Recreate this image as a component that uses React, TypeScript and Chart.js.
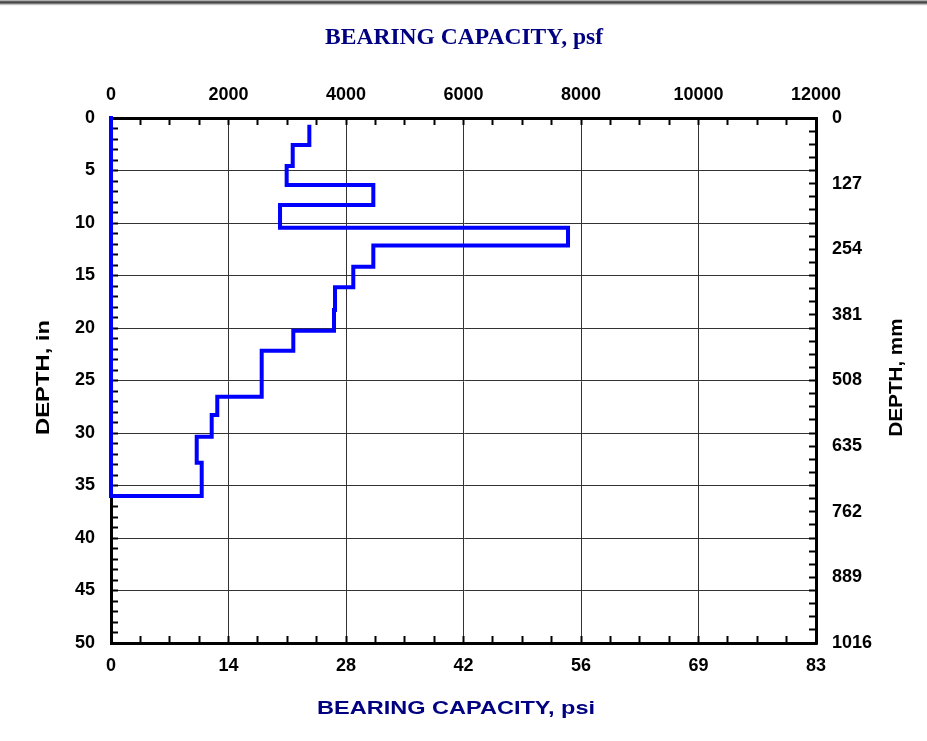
import React, { useEffect, useRef } from 'react';
import { Chart, registerables } from 'chart.js';

Chart.register(...registerables);

// ---- Data ----
// Bearing capacity (psf) of each layer, top to bottom
const LAYER_PSF = [3376, 3093, 2990, 4465, 2877, 7779, 4465, 4124, 3813, 3796, 3103, 2565, 1809, 1714, 1459, 1544];
// Depth boundaries (in) of the layers: layer i spans DEPTH_BREAKS[i]..DEPTH_BREAKS[i+1]
const DEPTH_BREAKS = [0.83, 2.57, 4.57, 6.38, 8.29, 10.45, 12.15, 14.16, 16.12, 18.29, 20.26, 22.16, 26.54, 28.29, 30.35, 32.83, 36.0];
// closing segment back along the zero-capacity edge
const TAIL_PSF = [0, 0];
const TAIL_DEPTH = [36.0, 0];

// ---- Tick labels ----
const PSF_TICK_LABELS = ['0', '2000', '4000', '6000', '8000', '10000', '12000'];
const PSI_TICK_LABELS = ['0', '14', '28', '42', '56', '69', '83'];
const DEPTH_IN_LABELS = ['0', '5', '10', '15', '20', '25', '30', '35', '40', '45', '50'];
const DEPTH_MM_LABELS = ['0', '127', '254', '381', '508', '635', '762', '889', '1016'];

const TOP_TITLE = 'BEARING CAPACITY, psf';
const BOTTOM_TITLE = 'BEARING CAPACITY, psi';
const LEFT_TITLE = 'DEPTH, in';
const RIGHT_TITLE = 'DEPTH, mm';

const PSF_MAX = 12000;
const PSF_MINOR = 500;
const DEPTH_MAX = 50;
const DEPTH_MINOR = 1;
const MM_MAX = 1016;
const MM_MINOR = 25.4;

const SANS = '"Liberation Sans", Arial, Helvetica, sans-serif';
const SERIF = '"Liberation Serif", "Times New Roman", serif';
const NAVY = '#000080';
const GRID = '#333333';

function buildPoints() {
  const pts: { x: number; y: number }[] = [];
  for (let i = 0; i < LAYER_PSF.length; i++) {
    pts.push({ x: LAYER_PSF[i], y: DEPTH_BREAKS[i] });
    pts.push({ x: LAYER_PSF[i], y: DEPTH_BREAKS[i + 1] });
  }
  for (let i = 0; i < TAIL_PSF.length; i++) pts.push({ x: TAIL_PSF[i], y: TAIL_DEPTH[i] });
  return pts;
}

function drawFitted(ctx: CanvasRenderingContext2D, text: string, x: number, y: number, rot: number, font: string, color: string, targetWidth: number) {
  ctx.save();
  ctx.translate(x, y);
  ctx.rotate(rot);
  ctx.font = font;
  const w = ctx.measureText(text).width;
  ctx.scale(targetWidth / w, 1);
  ctx.fillStyle = color;
  ctx.textAlign = 'center';
  ctx.textBaseline = 'alphabetic';
  ctx.fillText(text, 0, 0);
  ctx.restore();
}

const titlesPlugin = {
  id: 'axisTitles',
  afterDraw(chart: any) {
    const ctx = chart.ctx as CanvasRenderingContext2D;
    drawFitted(ctx, TOP_TITLE, 464, 43.5, 0, `bold 23px ${SERIF}`, NAVY, 278);
    drawFitted(ctx, BOTTOM_TITLE, 456, 713.5, 0, `bold 19px ${SANS}`, NAVY, 278);
    drawFitted(ctx, LEFT_TITLE, 48.5, 377.5, -Math.PI / 2, `bold 19px ${SANS}`, '#000', 115);
    drawFitted(ctx, RIGHT_TITLE, 901.5, 377.5, -Math.PI / 2, `bold 19px ${SANS}`, '#000', 118);
  },
};

const tickFont = { family: SANS, size: 18, weight: 'bold' as const };

// index of a tick counted from the scale's zero, independent of reverse
const stepIndex = (v: number, step: number) => Math.round(v / step);

function labelFrom(labels: string[], step: number, every: number) {
  return (v: any) => {
    const k = stepIndex(Number(v), step);
    return k % every === 0 ? labels[k / every] ?? '' : '';
  };
}

function gridOpts(step: number, every: number, onArea: boolean) {
  return {
    drawOnChartArea: onArea,
    color: (c: any) => (c.tick && stepIndex(c.tick.value, step) % every === 0 ? GRID : 'rgba(0,0,0,0)'),
    lineWidth: 1,
    tickColor: '#000',
    tickWidth: 2,
    tickLength: -7,
  };
}

export default function App() {
  const ref = useRef<HTMLCanvasElement | null>(null);

  useEffect(() => {
    if (!ref.current) return;
    const chart = new Chart(ref.current, {
      type: 'scatter',
      data: {
        datasets: [
          {
            data: buildPoints(),
            xAxisID: 'xTop',
            yAxisID: 'yLeft',
            showLine: true,
            borderColor: '#0000ff',
            backgroundColor: '#0000ff',
            borderWidth: 4,
            borderJoinStyle: 'miter',
            borderCapStyle: 'square',
            pointRadius: 0,
            tension: 0,
            clip: false,
          } as any,
        ],
      },
      options: {
        animation: false,
        responsive: false,
        devicePixelRatio: 1,
        layout: { padding: 0 },
        plugins: { legend: { display: false }, tooltip: { enabled: false }, title: { display: false } },
        events: [],
        scales: {
          xTop: {
            type: 'linear',
            position: 'top',
            min: 0,
            max: PSF_MAX,
            ticks: {
              stepSize: PSF_MINOR,
              autoSkip: false,
              maxRotation: 0,
              padding: 19,
              color: '#000',
              font: tickFont,
              callback: labelFrom(PSF_TICK_LABELS, PSF_MINOR, 4),
            },
            grid: gridOpts(PSF_MINOR, 4, true),
            border: { display: true, color: '#000', width: 3 },
            afterFit: (s: any) => { s.height = 118; },
          },
          xBottom: {
            type: 'linear',
            position: 'bottom',
            min: 0,
            max: PSF_MAX,
            ticks: {
              stepSize: PSF_MINOR,
              autoSkip: false,
              maxRotation: 0,
              padding: 19,
              color: '#000',
              font: tickFont,
              callback: labelFrom(PSI_TICK_LABELS, PSF_MINOR, 4),
            },
            grid: gridOpts(PSF_MINOR, 4, false),
            border: { display: true, color: '#000', width: 3 },
            afterFit: (s: any) => { s.height = 98; },
          },
          yLeft: {
            type: 'linear',
            position: 'left',
            reverse: true,
            min: 0,
            max: DEPTH_MAX,
            ticks: {
              stepSize: DEPTH_MINOR,
              autoSkip: false,
              padding: 23,
              color: '#000',
              font: tickFont,
              callback: labelFrom(DEPTH_IN_LABELS, DEPTH_MINOR, 5),
            },
            grid: gridOpts(DEPTH_MINOR, 5, true),
            border: { display: true, color: '#000', width: 3 },
            afterFit: (s: any) => { s.width = 111; },
          },
          yRight: {
            type: 'linear',
            position: 'right',
            reverse: true,
            min: 0,
            max: MM_MAX,
            ticks: {
              stepSize: MM_MINOR,
              autoSkip: false,
              padding: 23,
              color: '#000',
              font: tickFont,
              callback: labelFrom(DEPTH_MM_LABELS, MM_MINOR, 5),
            },
            grid: gridOpts(MM_MINOR, 5, false),
            border: { display: true, color: '#000', width: 3 },
            afterFit: (s: any) => { s.width = 111; },
          },
        },
      } as any,
      plugins: [titlesPlugin],
    });
    return () => chart.destroy();
  }, []);

  return (
    <div style={{ position: 'absolute', left: 0, top: 0, width: 927, height: 741, background: '#fff' }}>
      <div
        style={{
          position: 'absolute',
          left: 0,
          top: 0,
          width: 927,
          height: 6,
          background:
            'linear-gradient(to bottom, #d0d0d0 0px, #8a8a8a 1px, #3a3a3a 2px, #555555 3px, #9a9a9a 4px, #e8e8e8 5px, #ffffff 6px)',
        }}
      />
      <canvas ref={ref} width={927} height={741} style={{ display: 'block' }} />
    </div>
  );
}
